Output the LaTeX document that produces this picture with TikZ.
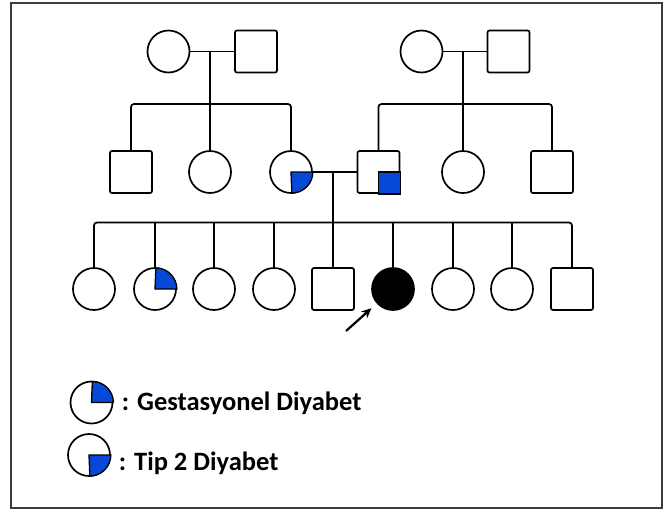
\documentclass[tikz,border=0pt]{standalone}
\usepackage{fontspec}
\setmainfont{Carlito}
\usetikzlibrary{arrows.meta}
\definecolor{dblue}{RGB}{8,72,215}
\definecolor{framegray}{RGB}{60,60,60}
\begin{document}
\begin{tikzpicture}[x=1pt,y=-1pt,
  line width=1.7pt,
  fem/.style={circle,draw,minimum size=42pt,inner sep=0pt},
  mal/.style={rectangle,draw,rounded corners=2pt,minimum size=42pt,inner sep=0pt},
  qfill/.style={fill=dblue,draw=black,line width=1.3pt},
  sib/.style={rounded corners=3pt},
  lbl/.style={font=\bfseries\fontsize{26.5}{31}\selectfont,anchor=base west,inner sep=0pt}]
\useasboundingbox (0,0) rectangle (669,515);
\draw[framegray, line width=2pt] (11,2.5) rectangle (662,508);
% generation 1
\node[fem] (g1f) at (168.5,51.5) {};
\node[mal] (g1m) at (256,51.5) {};
\node[fem] (g2f) at (421.5,51.5) {};
\node[mal] (g2m) at (508.5,51.5) {};
% generation 2
\node[mal] (a1) at (131,172) {};
\node[fem] (a2) at (210,172) {};
\node[fem] (a3) at (291,172) {};
\node[mal] (b1) at (378.5,172) {};
\node[fem] (b2) at (463,172) {};
\node[mal] (b3) at (552,172) {};
% generation 3
\node[fem] (c1) at (94,289) {};
\node[fem] (c2) at (155,289) {};
\node[fem] (c3) at (214,289) {};
\node[fem] (c4) at (274,289) {};
\node[mal] (c5) at (333,289) {};
\node[fem,fill=black] (c6) at (393,289) {};
\node[fem] (c7) at (453,289) {};
\node[fem] (c8) at (512,289) {};
\node[mal] (c9) at (572,289) {};
% coordinates
\coordinate (m1) at (210,51.5);
\coordinate (s1) at (210,104);
\coordinate (m2) at (463,51.5);
\coordinate (s2) at (463,104);
\coordinate (m3) at (333,172);
\coordinate (s3) at (333,222.5);
% family 1
\draw (g1f) -- (g1m);
\draw (m1) -- (s1);
\draw[sib] (a1.north) |- (s1) -| (a3.north);
\draw (a2.north) -- (s1);
% family 2
\draw (g2f) -- (g2m);
\draw (m2) -- (s2);
\draw[sib] (b1.north) |- (s2) -| (b3.north);
\draw (b2.north) -- (s2);
% family 3
\draw (a3) -- (b1);
\draw (m3) -- (s3);
\draw[sib] (c1.north) |- (s3) -| (c9.north);
\foreach \n in {c2,c3,c4,c6,c7,c8} \draw (\n.north) -- (\n.north |- s3);
\draw (c5.north) -- (s3);
% affected quadrants
\filldraw[qfill] (a3.center) -- (a3.east) arc[start angle=0,end angle=-90,radius=21pt] -- cycle;
\filldraw[qfill] (b1.center) rectangle (b1.south east);
\filldraw[qfill] (c2.center) -- (c2.east) arc[start angle=0,end angle=90,radius=21pt] -- cycle;
% proband arrow
\coordinate (ar) at (346,331);
\draw[line width=2.2pt, -{Stealth[length=10pt,width=9pt]}, shorten >=7pt] (ar) -- (c6);
% legend
\node[fem] (l1) at (91.5,402.5) {};
\filldraw[qfill] (l1.center) -- (l1.east) arc[start angle=0,end angle=90,radius=21pt] -- cycle;
\node[lbl] (t1) at (121,410) {: Gestasyonel Diyabet};
\node[fem] (l2) at (89,455) {};
\filldraw[qfill] (l2.center) -- (l2.east) arc[start angle=0,end angle=-90,radius=21pt] -- cycle;
\node[lbl] (t2) at (118,470) {: Tip 2 Diyabet};
\end{tikzpicture}
\end{document}
